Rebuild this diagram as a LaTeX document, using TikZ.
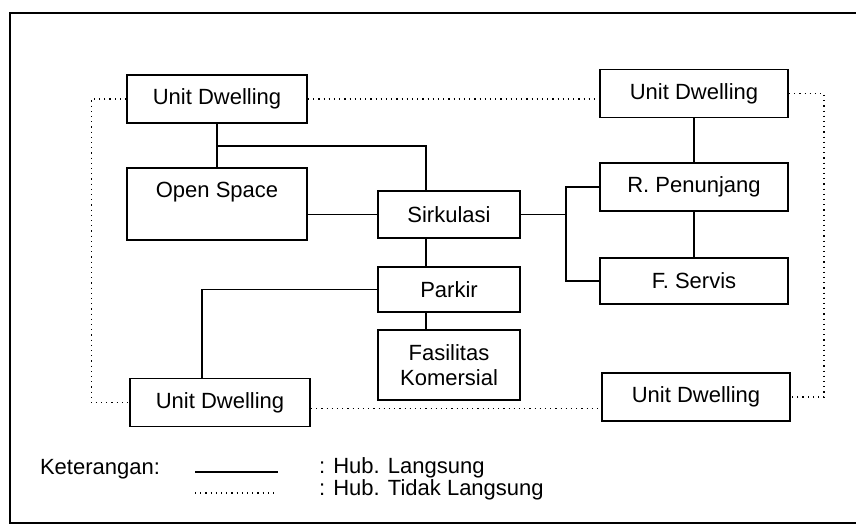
\documentclass[tikz,border=0pt]{standalone}
\usepackage{fontspec}
\setmainfont{Liberation Sans}
\usetikzlibrary{positioning, calc}

\begin{document}
\begin{tikzpicture}[x=0.5pt, y=-0.5pt, font=\fontsize{11}{12.5}\selectfont,
    box/.style={draw, line width=0.9pt, inner sep=0pt, minimum width=#1, minimum height=24pt, align=center},
    box/.default=90pt,
    direct/.style={line width=0.9pt},
    indirect/.style={dotted, line width=0.6pt}]
    \useasboundingbox (0,0) rectangle (856,525);
    \draw[line width=0.9pt] (856,13) -- (10,13) -- (10,523) -- (856,523);

    \node[box] (udtl) at (217,99) {Unit Dwelling};
    \node[box, minimum height=36pt] (open) at (217,204) {Open Space\\[2pt]\mbox{}};
    \node[box=71pt, minimum height=23.5pt] (sirk) at (449,214.5) {Sirkulasi};
    \node[box=71pt, minimum height=22.5pt] (parkir) at (449,289.5) {Parkir};
    \node[box=71pt, minimum height=35pt] (fasil) at (449,365) {Fasilitas\\Komersial};
    \node[box=94pt] (udtr) at (694,93.5) {Unit Dwelling};
    \node[box=94pt] (penunjang) at (694,187) {R. Penunjang};
    \node[box=94pt, minimum height=23pt] (servis) at (694,281) {F. Servis};
    \node[box] (udbl) at (220,402.5) {Unit Dwelling};
    \node[box=94pt] (udbr) at (696,397) {Unit Dwelling};

    % hubungan langsung
    \coordinate (spine) at (426,146);
    \coordinate (knee) at (566,214.5);
    \draw[direct] (udtl) -- (open);
    \draw[direct] (udtl.south |- spine) -| (spine |- sirk.north);
    \draw[direct] (open.east |- sirk) -- (sirk.west);
    \draw[direct] (spine |- sirk.south) -- (spine |- parkir.north);
    \draw[direct] (spine |- parkir.south) -- (spine |- fasil.north);
    \draw[direct] (parkir.west) -| ([xshift=-9pt]udbl.north);
    \draw[direct] (sirk.east) -- (knee);
    \draw[direct] (penunjang.west) -| (knee) |- (servis.west);
    \draw[direct] (udtr) -- (penunjang);
    \draw[direct] (penunjang) -- (servis);

    % hubungan tidak langsung
    \draw[indirect] (udtl.west) -- ++(-35,0) |- (udbl.west);
    \draw[indirect] (udtl.east) -- (udtr.west |- udtl.east);
    \draw[indirect] (udtr.east) -- ++(35,0) |- (udbr.east);
    \draw[indirect] ([yshift=-3pt]udbl.east) -- ([yshift=-3pt]udbl.east -| udbr.west);

    % keterangan
    \node[anchor=west] (ket) at (33,469) {Keterangan:};
    \coordinate (sa) at (195,472);
    \coordinate (sb) at (278,472);
    \coordinate (da) at (195,493);
    \coordinate (db) at (278,493);
    \draw[direct] (sa) -- (sb);
    \draw[indirect] (da) -- (db);
    \node[anchor=west] (hub1) at (312,468) {: Hub. Langsung};
    \node[anchor=west] (hub2) at (312,490) {: Hub. Tidak Langsung};
\end{tikzpicture}
\end{document}
